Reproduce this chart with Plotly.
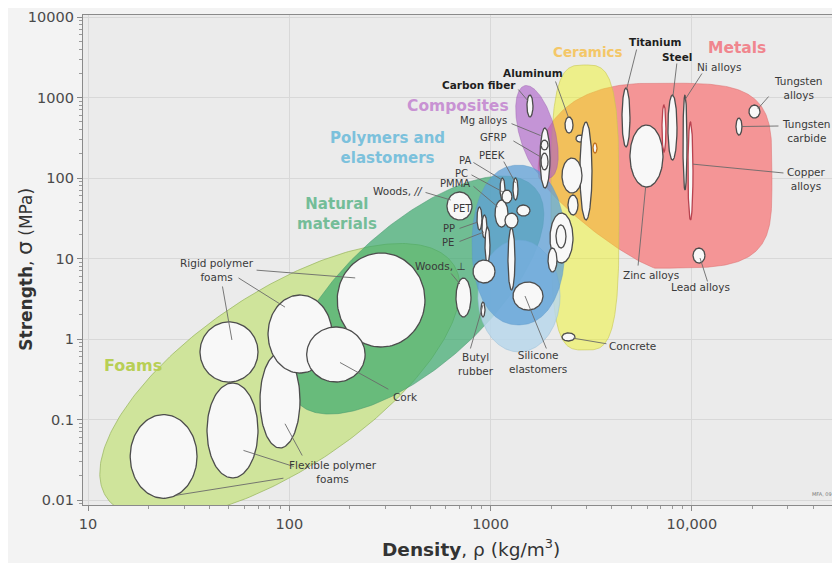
import numpy as np
import plotly.graph_objects as go

# material bubbles: density range (kg/m3) and strength range (MPa)
mat_name = ["Flexible foam 1", "Flexible foam 2", "Flexible foam 3",
            "Rigid foam 1", "Rigid foam 2", "Rigid foam 3", "Cork",
            "Woods perp", "Woods par", "PP", "PE", "LDPE", "EVA", "PA", "PEEK",
            "PMMA", "PC", "PET", "PS", "PVC", "Silicone", "Butyl rubber",
            "Glass", "Glass 2", "Brick", "Stone", "Concrete",
            "Carbon fiber", "GFRP", "GFRP 2", "GFRP 3", "Aluminum", "Al 2",
            "Alumina", "Glass ceramic", "SiC", "Titanium", "Zinc alloys",
            "Steel", "Cast iron", "Ni alloys", "Copper alloys",
            "Tungsten alloys", "Tungsten carbide", "Lead alloys"]
mat_rho_lo = [16.2, 39.0, 71.5, 36.0, 78.4, 173, 122,
              673, 607, 856, 906, 938, 818, 1114, 1292,
              1052, 1139, 1179, 1350, 1220, 1292, 896,
              1973, 2113, 2424, 1929, 2263,
              1516, 1760, 1780, 1780, 2342, 2656,
              2780, 2263, 3227, 4497, 4925,
              7605, 7104, 9033, 9563,
              19215, 16560, 10130]
mat_rho_hi = [34.8, 69.9, 113, 69.9, 163, 472, 238,
              799, 808, 906, 959, 993, 1052, 1179, 1368,
              1220, 1277, 1368, 1569, 1322, 1821, 938,
              2567, 2369, 2718, 2137, 2626,
              1624, 1973, 1929, 1929, 2567, 2911,
              3190, 2845, 3378, 4925, 7186,
              8436, 7431, 9456, 10130,
              21790, 17740, 11617]
mat_sig_lo = [0.0105, 0.0188, 0.0443, 0.292, 0.378, 0.796, 0.292,
              1.88, 30.1, 22.6, 18.0, 8.79, 4.96, 53.3, 53.3,
              24.6, 48.9, 23.9, 33.7, 4.06, 2.29, 1.88,
              8.79, 13.5, 34.7, 6.80, 0.945,
              573, 75.1, 126, 223, 362, 280,
              30.1, 65.1, 204, 243, 77.3,
              167, 210, 71.0, 30.1,
              556, 342, 8.79]
mat_sig_hi = [0.115, 0.284, 0.67, 1.63, 3.52, 11.7, 1.41,
              5.72, 67.0, 43.6, 34.7, 24.6, 9.58, 100, 100,
              53.3, 71.0, 36.7, 46.2, 23.9, 5.11, 2.88,
              36.7, 26.1, 61.5, 13.5, 1.19,
              1074, 418, 204, 296, 573, 342,
              496, 177, 272, 1312, 455,
              1074, 807, 1074, 496,
              807, 556, 13.5]

# family envelopes: centre, half length / half width (screen size in x-decades),
# tilt in degrees, superellipse exponent per quadrant (top-left, top-right,
# bottom-left, bottom-right)
fam_name = ["Foams", "Natural materials", "Metals", "Ceramics",
            "Composites", "Elastomers", "Polymers"]
fam_rho = [89.9, 426, 6557, 2944, 1700, 1384, 1376]
fam_sig = [0.301, 3.52, 107, 43.0, 373, 3.42, 14.7]
fam_len = [1.038, 0.795, 0.581, 0.169, 0.238, 0.204, 0.231]
fam_wid = [0.437, 0.348, 0.4595, 0.708, 0.089, 0.278, 0.397]
fam_tilt = [33.9, 42, 0, 0, 105, 0, 0]
fam_n = [(2, 2, 2, 2), (2, 2, 2, 2), (2.4, 4, 1.2, 4), (3.5, 3.5, 3.5, 3.5),
         (2, 2, 2, 2), (2, 2, 2, 2), (2.2, 2.2, 2.2, 2.2)]

# family titles
famlab_text = ["Foams", "Natural<br>materials", "Polymers and<br>elastomers",
               "Composites", "Ceramics", "Metals"]
famlab_rho = [16.7, 173, 309, 689, 3047, 16760]
famlab_sig = [0.475, 36.2, 236, 784, 3674, 4121]

# material labels
lab_text = ["Rigid polymer<br>foams", "Cork", "Flexible polymer<br>foams",
            "Woods, <i>//</i>", "Woods, \u22a5", "PET", "PP", "PE", "PMMA", "PC",
            "PA", "PEEK", "GFRP", "Mg alloys", "Carbon fiber", "Aluminum",
            "Titanium", "Steel", "Ni alloys", "Tungsten<br>alloys",
            "Tungsten<br>carbide", "Copper<br>alloys", "Zinc alloys",
            "Lead alloys", "Concrete", "Silicone<br>elastomers",
            "Butyl<br>rubber"]
lab_rho = [43.8, 376, 165, 347, 561, 721, 621, 614, 666, 713,
           746, 1016, 1028, 917, 876, 1624,
           6557, 8436, 13790, 34040, 36900, 37300, 6266,
           11100, 5098, 1720, 846]
lab_sig = [7.19, 0.190, 0.0223, 68.9, 8.07, 42.4, 23.3, 16.0, 86.7, 115,
           167, 193, 323, 525, 1430, 2015,
           4892, 3185, 2392, 1312, 384, 97.2, 6.24,
           4.43, 0.818, 0.518, 0.490]
lab_bold = ["Carbon fiber", "Aluminum", "Titanium", "Steel"]
lab_small = ["PET", "PP", "PE", "PMMA", "PC", "PA", "PEEK", "GFRP", "Mg alloys"]

# leader lines: start point near the label, target bubble, offset in bubble
lead_rho = [67.6, 55.0, 46.4, 316, 107, 117, 95.1, 467, 628, 689, 689,
            808, 790, 808, 1152, 1276, 1249, 1353, 2089, 5338, 8436, 11350,
            24430, 27400, 29010, 5395, 12020, 3828, 1906, 790]
lead_sig = [7.19, 5.89, 4.69, 0.232, 0.0257, 0.0342, 0.0188, 67.0, 6.80,
            23.3, 16.0, 81.8, 112, 160, 167, 296, 482, 1312, 1650, 4121,
            2761, 2075, 1074, 443, 115, 7.83, 4.97, 0.867, 0.73, 0.73]
lead_to = ["Rigid foam 3", "Rigid foam 2", "Rigid foam 1", "Cork",
           "Flexible foam 2", "Flexible foam 3", "Flexible foam 1",
           "Woods par", "Woods perp", "PP", "PE", "PMMA", "PC", "PA", "PEEK",
           "GFRP", "GFRP", "Carbon fiber", "Aluminum", "Titanium", "Steel",
           "Ni alloys", "Tungsten alloys", "Tungsten carbide", "Copper alloys",
           "Zinc alloys", "Lead alloys", "Concrete", "Silicone", "Butyl rubber"]
lead_fx = [-0.59, -0.47, 0.1, 0.14, 0.43, 0.25, 0.36, -0.7, -0.47, -0.6, -0.2,
           -0.6, -0.6, 0, 0, -0.8, -0.9, -0.6, -0.1, 0.1, 0.1,
           0, 0.6, 0.9, 1.0, -0.05, 0.17, 0.7, -0.2, 0]
lead_fy = [0.47, 0.69, 0.4, -0.29, -0.42, -0.49, -0.93, 0.43, 0.69, -0.3, -0.48,
           0.5, 0.6, 0.8, 0.55, 0.03, 0.75, 0.45, 0.9, 0.93, 0.95,
           0.9, 0.4, 0, 0.14, -1.0, -0.33, -0.3, 0, 0.6]

# ---------------- styling ----------------
X_RANGE = [0.975, 4.726]
Y_RANGE = [-2.062, 4.025]
PLOT_W, PLOT_H = 755, 490
ASPECT = (PLOT_H / (Y_RANGE[1] - Y_RANGE[0])) / (PLOT_W / (X_RANGE[1] - X_RANGE[0]))

FAM_FILL = ["#cfe49b", "rgba(60,170,110,0.7)", "#f49596", "rgba(240,245,20,0.45)",
            "rgba(170,90,200,0.6)", "rgba(185,215,235,0.85)", "rgba(95,160,215,0.75)"]
FAM_EDGE = ["rgba(150,180,90,0.7)", "rgba(70,150,110,0.5)", "rgba(220,110,110,0.5)",
            "rgba(200,200,80,0.6)", "rgba(150,90,170,0.4)", "rgba(150,190,215,0.5)",
            "rgba(90,150,200,0.4)"]
FAMLAB_COLOR = ["#b8cf55", "#74bd98", "#7cc1dc", "#c892d3", "#f4c768", "#f0868e"]
FAMLAB_SIZE = [16, 15, 15, 15.5, 13.5, 15.5]
RED_EDGE = ["Cast iron", "Copper alloys"]


def envelope(lx0, ly0, a, b, tilt, n4, k=300):
    t = np.linspace(0, 2 * np.pi, k)
    c, s = np.cos(t), np.sin(t)
    n_tl, n_tr, n_bl, n_br = n4
    n = np.where(c < 0, np.where(s < 0, n_bl, n_tl), np.where(s < 0, n_br, n_tr))
    u = a * np.sign(c) * np.abs(c) ** (2 / n)
    v = b * np.sign(s) * np.abs(s) ** (2 / n)
    th = np.radians(tilt)
    X = u * np.cos(th) - v * np.sin(th)
    Y = u * np.sin(th) + v * np.cos(th)
    return 10 ** (lx0 + X), 10 ** (ly0 + Y / ASPECT)


fig = go.Figure()

for i in range(len(fam_name)):
    xs, ys = envelope(np.log10(fam_rho[i]), np.log10(fam_sig[i]), fam_len[i],
                      fam_wid[i], fam_tilt[i], fam_n[i])
    fig.add_trace(go.Scatter(x=xs, y=ys, mode="lines", fill="toself",
                             fillcolor=FAM_FILL[i],
                             line=dict(color=FAM_EDGE[i], width=1),
                             hoverinfo="skip", showlegend=False))

lx_lo, lx_hi = np.log10(mat_rho_lo), np.log10(mat_rho_hi)
ly_lo, ly_hi = np.log10(mat_sig_lo), np.log10(mat_sig_hi)
cx, hx = (lx_lo + lx_hi) / 2, (lx_hi - lx_lo) / 2
cy, hy = (ly_lo + ly_hi) / 2, (ly_hi - ly_lo) / 2
t = np.linspace(0, 2 * np.pi, 120)
for i, name in enumerate(mat_name):
    edge = "#b8434f" if name in RED_EDGE else ("#c07020" if name == "SiC" else "#4d4d4d")
    fig.add_trace(go.Scatter(x=10 ** (cx[i] + hx[i] * np.cos(t)),
                             y=10 ** (cy[i] + hy[i] * np.sin(t)),
                             mode="lines", fill="toself", fillcolor="#f8f8f8",
                             line=dict(color=edge, width=1.3),
                             hoverinfo="skip", showlegend=False))

ann = []
for i in range(len(lead_to)):
    j = mat_name.index(lead_to[i])
    ann.append(dict(x=cx[j] + lead_fx[i] * hx[j], y=cy[j] + lead_fy[i] * hy[j],
                    ax=np.log10(lead_rho[i]), ay=np.log10(lead_sig[i]),
                    xref="x", yref="y", axref="x", ayref="y", text="",
                    showarrow=True, arrowhead=0, arrowwidth=0.9,
                    arrowcolor="#6a6a6a"))

for i, txt in enumerate(lab_text):
    bold = txt in lab_bold
    ann.append(dict(x=np.log10(lab_rho[i]), y=np.log10(lab_sig[i]),
                    xref="x", yref="y", showarrow=False,
                    text="<b>%s</b>" % txt if bold else txt,
                    font=dict(family="DejaVu Sans",
                              size=10 if txt in lab_small else 10.5,
                              color="#1e1e1e" if bold else "#3a3a3a")))

for i, txt in enumerate(famlab_text):
    ann.append(dict(x=np.log10(famlab_rho[i]), y=np.log10(famlab_sig[i]),
                    xref="x", yref="y", showarrow=False, text="<b>%s</b>" % txt,
                    font=dict(family="DejaVu Sans", size=FAMLAB_SIZE[i],
                              color=FAMLAB_COLOR[i])))

ann.append(dict(x=0.995, y=0.012, xref="paper", yref="paper", showarrow=False,
                text="MFA, 09", xanchor="right",
                font=dict(family="DejaVu Sans", size=5, color="#777")))

# axis titles as annotations
ann.append(dict(x=-0.077, y=0.482, xref="paper", yref="paper", showarrow=False,
                textangle=-90, xanchor="center", yanchor="middle",
                text="<b>Strength</b>, <span style='font-size:22px'>\u03c3</span> (MPa)",
                font=dict(family="DejaVu Sans", size=17, color="#333")))
ann.append(dict(x=0.514, y=-0.088, xref="paper", yref="paper", showarrow=False,
                xanchor="center", yanchor="middle",
                text="<b>Density</b>, \u03c1 (kg/m<sup>3</sup>)",
                font=dict(family="DejaVu Sans", size=18.5, color="#333")))

axis_common = dict(type="log", showgrid=True, gridcolor="#d8d8d8", gridwidth=1,
                   showline=True, linecolor="#8a8a8a", linewidth=1.2, mirror=True,
                   ticks="outside", ticklen=5, tickcolor="#8a8a8a",
                   zeroline=False,
                   tickfont=dict(family="DejaVu Sans", size=14.5, color="#4a4a4a"),
                   minor=dict(ticks="outside", ticklen=3, tickcolor="#9a9a9a",
                              dtick="D1", showgrid=False))

fig.update_xaxes(range=X_RANGE, tickvals=[10, 100, 1000, 10000],
                 ticktext=["10", "100", "1000", "10,000"], **axis_common)
fig.update_yaxes(range=Y_RANGE, tickvals=[0.01, 0.1, 1, 10, 100, 1000, 10000],
                 ticktext=["0.01", "0.1", "1", "10", "100", "1000", "10000"],
                 **axis_common)

# the page body adds an 8px margin, so the figure is 8px smaller each way
fig.update_layout(
    width=832, height=555,
    margin=dict(l=75, r=2, t=7, b=58),
    paper_bgcolor="#f3f3f3",
    plot_bgcolor="#ebebeb",
    annotations=ann,
    showlegend=False,
)

fig.write_html("out.html")
